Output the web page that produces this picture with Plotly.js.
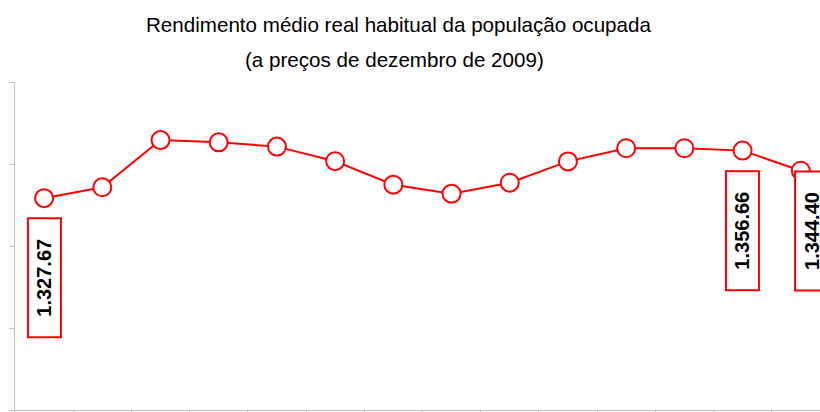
<!DOCTYPE html>
<html>
<head>
<meta charset="utf-8">
<script src="https://cdn.plot.ly/plotly-3.0.1.min.js"></script>
<style>
  html, body { margin: 0; padding: 0; background: #fff; }
  #plotDiv { width: 820px; height: 412px; }
</style>
</head>
<body>
<div id="plotDiv"></div>
<script>
// monthly periods (labels are not shown on the chart)
const months = ["dez/09", "jan/10", "fev/10", "mar/10", "abr/10", "mai/10", "jun/10",
  "jul/10", "ago/10", "set/10", "out/10", "nov/10", "dez/10", "jan/11"];
// average real income, R$ (labelled points are exact)
const income = [1327.67, 1334.3, 1363.1, 1361.7, 1359.1, 1350.2, 1335.9,
  1330.4, 1337.1, 1350.1, 1358.1, 1358.1, 1356.66, 1344.40];

// which points carry a value box, and how far the box sits from the marker
const labelIdx = [0, 12, 13];
const labelYShift = [-80, -80, -60];
const labelXShift = [0, 0, 11];

const fmt = (v) => v.toFixed(2).replace(/\B(?=(\d{3})+(?!\d))/g, ".");

const trace = {
  x: months,
  y: income,
  type: "scatter",
  mode: "lines+markers",
  line: { color: "#ff0000", width: 2 },
  marker: { symbol: "circle", size: 18, color: "#ffffff", line: { color: "#ff0000", width: 2 } },
  hoverinfo: "skip",
};

const valueBoxes = labelIdx.map((i, k) => ({
  x: months[i],
  y: income[i],
  xref: "x",
  yref: "y",
  text: fmt(income[i]),
  showarrow: false,
  textangle: -90,
  xanchor: "center",
  yanchor: "middle",
  xshift: labelXShift[k],
  yshift: labelYShift[k],
  width: 115,
  height: 29,
  bordercolor: "#ff0000",
  borderwidth: 2,
  borderpad: 1,
  bgcolor: "#ffffff",
  font: { family: "Liberation Sans, Arial, sans-serif", size: 20, color: "#000000", weight: "bold" },
}));

const titleFont = { family: "Liberation Sans, Arial, sans-serif", size: 20.6, color: "#000000" };
const titles = [
  { text: "Rendimento médio real habitual da população ocupada", x: 0.476, y: 1.176 },
  { text: "(a preços de dezembro de 2009)", x: 0.471, y: 1.07 },
].map((t) => ({
  text: t.text,
  x: t.x,
  y: t.y,
  xref: "paper",
  yref: "paper",
  showarrow: false,
  xanchor: "center",
  yanchor: "middle",
  font: titleFont,
}));

const layout = {
  width: 820,
  height: 412,
  margin: { l: 15, r: 0, t: 82, b: 2 },
  paper_bgcolor: "#ffffff",
  plot_bgcolor: "#ffffff",
  showlegend: false,
  xaxis: {
    type: "category",
    range: [-0.5, 13.33],
    showline: true,
    linecolor: "#c0c0c0",
    linewidth: 1,
    ticks: "outside",
    tickson: "boundaries",
    ticklen: 3,
    tickcolor: "#c0c0c0",
    showticklabels: false,
    showgrid: false,
    zeroline: false,
    fixedrange: true,
  },
  yaxis: {
    range: [1198.5, 1398.5],
    tick0: 1198.5,
    dtick: 50,
    showline: true,
    linecolor: "#c0c0c0",
    linewidth: 1,
    ticks: "outside",
    ticklen: 5,
    tickcolor: "#c0c0c0",
    showticklabels: false,
    showgrid: false,
    zeroline: false,
    fixedrange: true,
  },
  annotations: titles.concat(valueBoxes),
};

Plotly.newPlot("plotDiv", [trace], layout, { displayModeBar: false, staticPlot: true });
</script>
</body>
</html>
